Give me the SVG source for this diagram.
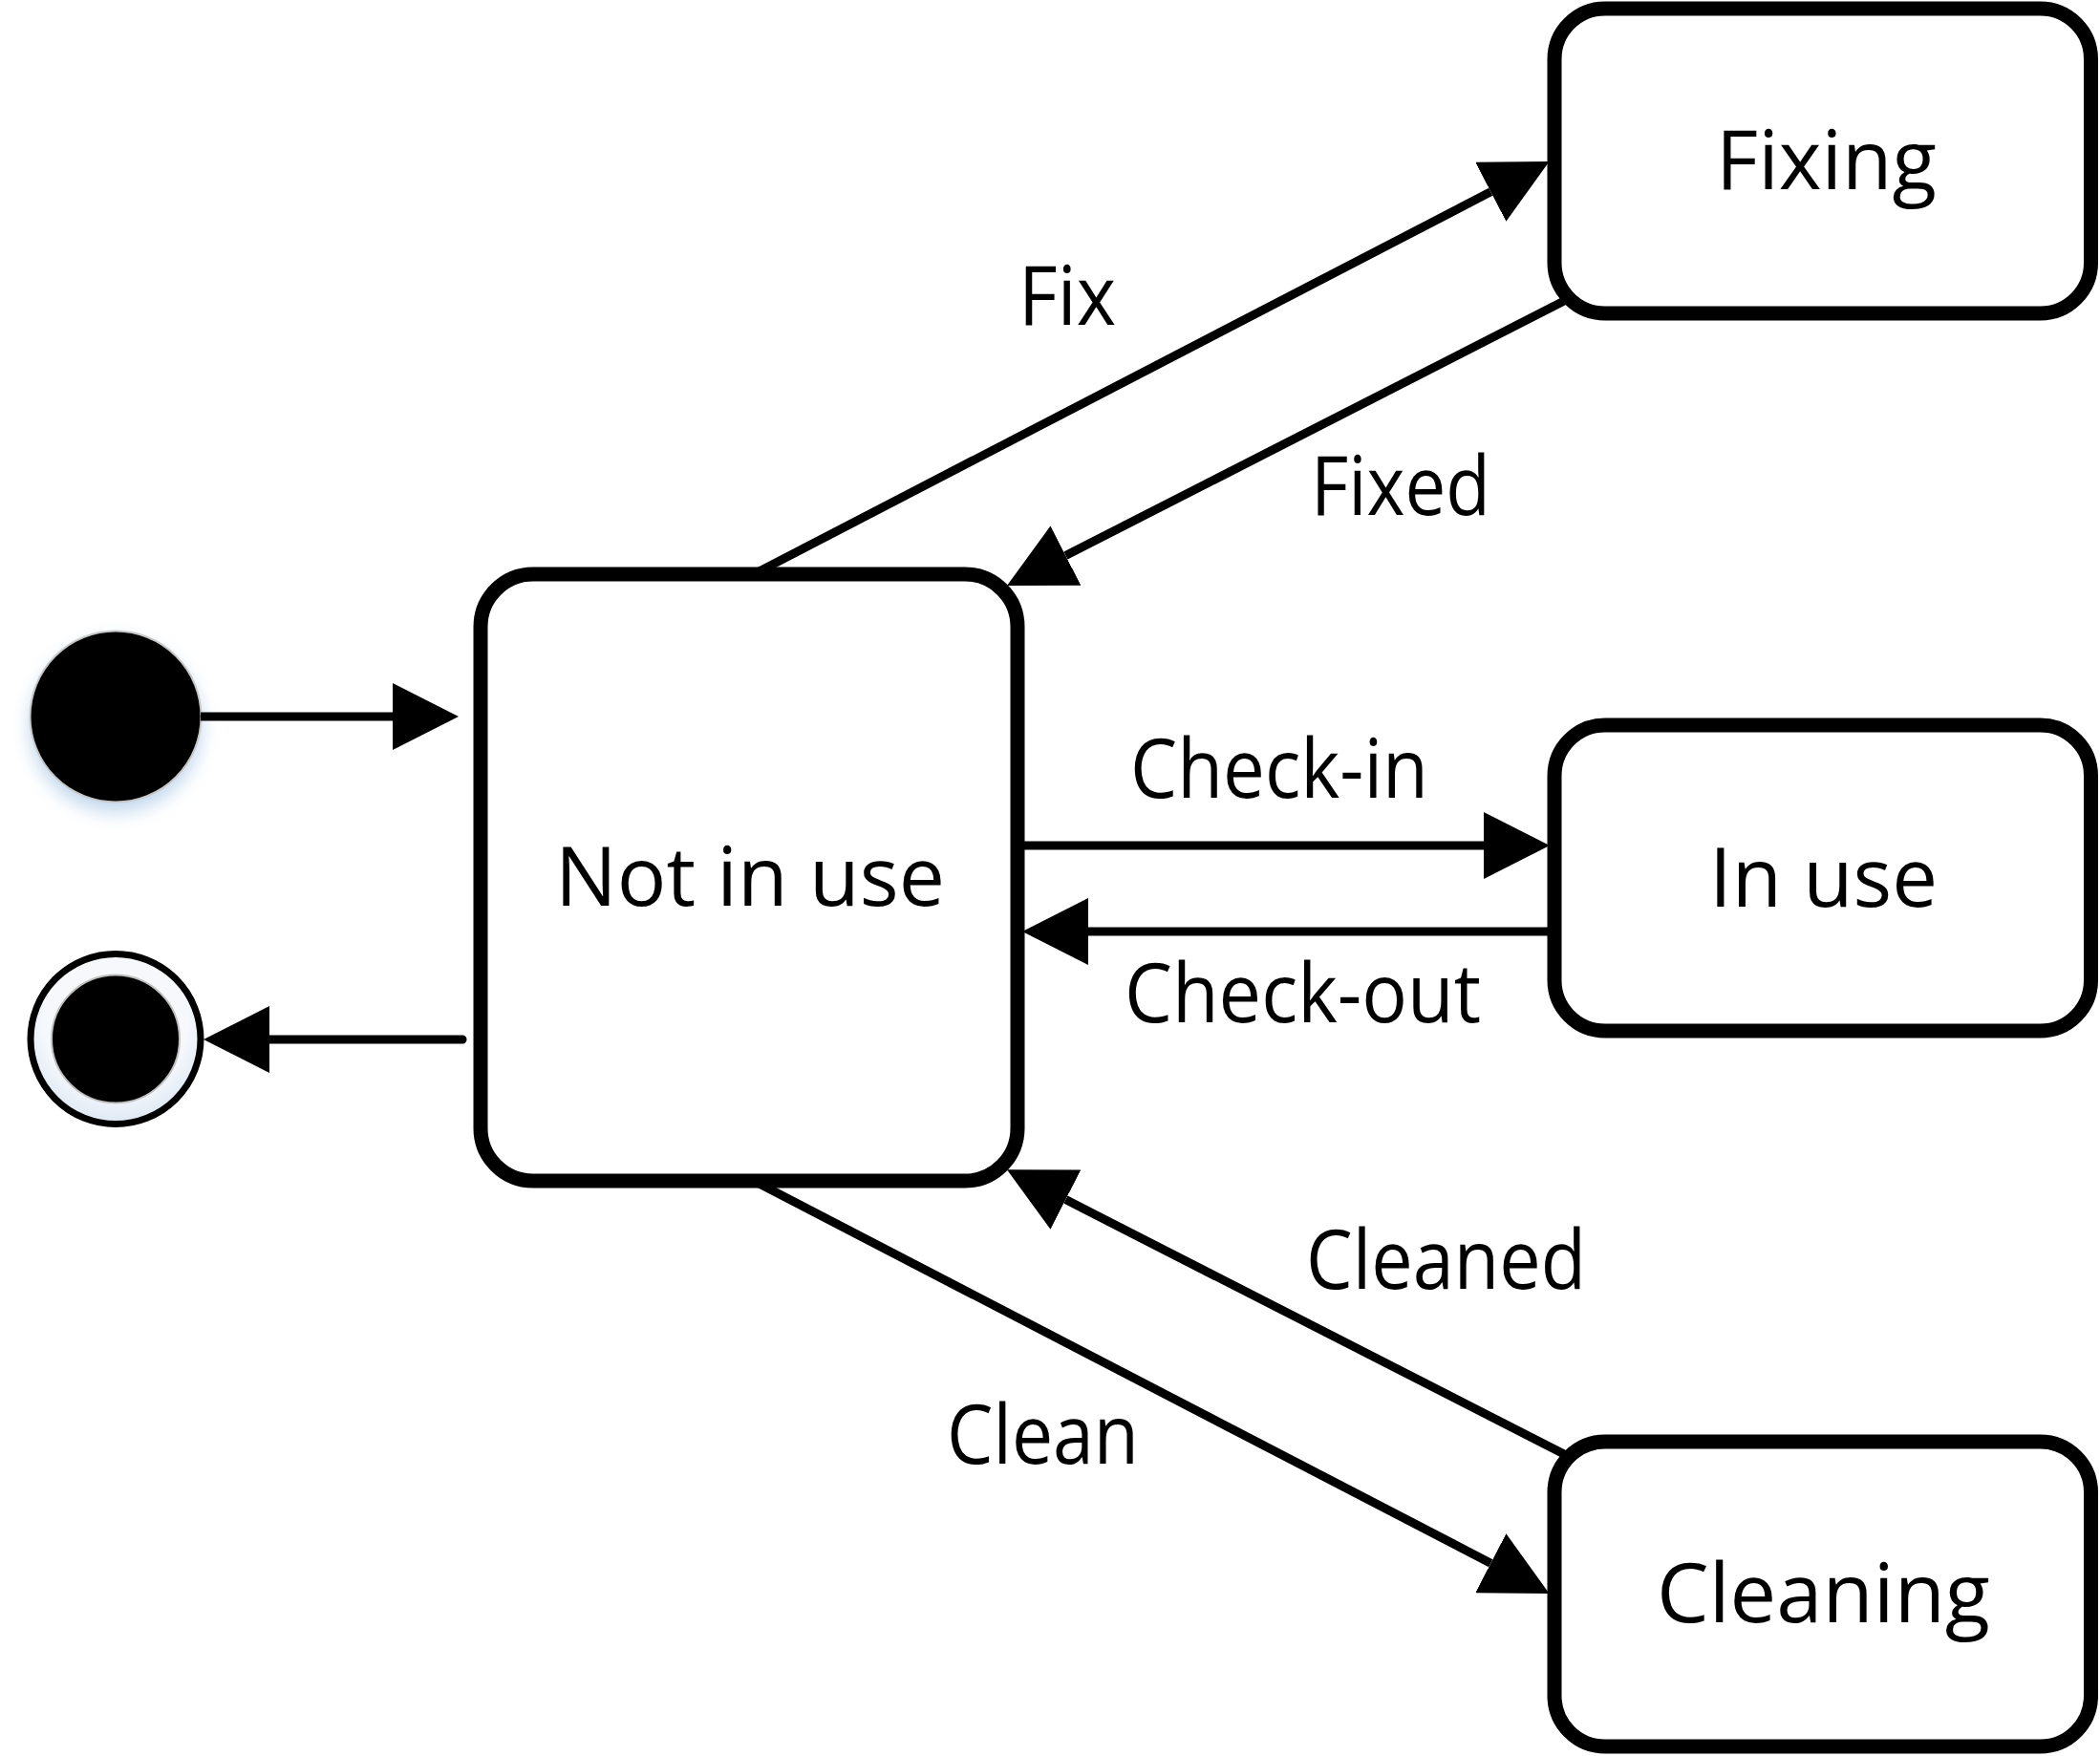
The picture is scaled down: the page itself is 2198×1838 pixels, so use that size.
<svg xmlns="http://www.w3.org/2000/svg" width="2198" height="1838" viewBox="0 0 2198 1838">
<style>
.node{fill:#fff;stroke:#000;stroke-width:15}
.lbl{font-family:"Open Sans","Noto Sans","Liberation Sans",sans-serif;font-size:86px;fill:#000}
.conn{stroke:#000;stroke-width:9;fill:none}
</style>
<defs>
<marker id="arr" markerUnits="userSpaceOnUse" markerWidth="70" markerHeight="70" refX="0" refY="35" orient="auto" viewBox="0 0 70 70">
<path d="M0,0 L69,35 L0,70 z" fill="#000"/>
</marker>
<filter id="glow" x="-40%" y="-40%" width="180%" height="190%">
<feGaussianBlur in="SourceAlpha" stdDeviation="9" result="b"/>
<feOffset in="b" dy="10" result="o"/>
<feFlood flood-color="#c4d9ee"/>
<feComposite in2="o" operator="in" result="s"/>
<feMerge><feMergeNode in="s"/><feMergeNode in="SourceGraphic"/></feMerge>
</filter>
<radialGradient id="ringfill" cx="50%" cy="40%" r="60%">
<stop offset="0.7" stop-color="#f6f8fc"/>
<stop offset="1" stop-color="#dde8f4"/>
</radialGradient>
</defs>

<g id="initial">
<circle cx="121" cy="750" r="89.5" fill="#000" stroke="#c8c8c8" stroke-width="2" filter="url(#glow)"/>
</g>

<g id="final">
<circle cx="121" cy="1087.5" r="89" fill="url(#ringfill)" stroke="#000" stroke-width="7"/>
<circle cx="121" cy="1087.5" r="67" fill="#000" stroke="#c0c0c0" stroke-width="2"/>
</g>

<g id="not-in-use">
<rect class="node" x="503" y="601" width="562" height="635" rx="55" ry="55"/>
<text class="lbl" x="581" y="948" textLength="408" lengthAdjust="spacingAndGlyphs">Not in use</text>
</g>

<g id="fixing">
<rect class="node" x="1627" y="9" width="561.5" height="319" rx="53" ry="53"/>
<text class="lbl" x="1796" y="198" textLength="231" lengthAdjust="spacingAndGlyphs">Fixing</text>
</g>

<g id="in-use">
<rect class="node" x="1627" y="759" width="561.5" height="320" rx="53" ry="53"/>
<text class="lbl" x="1789" y="949" textLength="239" lengthAdjust="spacingAndGlyphs">In use</text>
</g>

<g id="cleaning">
<rect class="node" x="1627" y="1509" width="561.5" height="319" rx="53" ry="53"/>
<text class="lbl" x="1734" y="1698" textLength="349" lengthAdjust="spacingAndGlyphs">Cleaning</text>
</g>

<g id="connectors">
<line class="conn" x1="210" y1="750" x2="411" y2="750" marker-end="url(#arr)"/>
<line class="conn" x1="484" y1="1088" x2="282" y2="1088" stroke-linecap="round" marker-end="url(#arr)"/>
<line class="conn" x1="1065" y1="885" x2="1553" y2="885" marker-end="url(#arr)"/>
<line class="conn" x1="1620" y1="975" x2="1139" y2="975" marker-end="url(#arr)"/>
<line class="conn" x1="789" y1="601" x2="1560.3" y2="200.8" marker-end="url(#arr)"/>
<line class="conn" x1="789" y1="1236" x2="1560.3" y2="1636.2" marker-end="url(#arr)"/>
<line class="conn" x1="1637" y1="315" x2="1115.4" y2="581.6" marker-end="url(#arr)"/>
<line class="conn" x1="1637" y1="1522" x2="1115.4" y2="1255.6" marker-end="url(#arr)"/>
</g>

<g id="labels">
<text class="lbl" x="1066" y="340" textLength="102" lengthAdjust="spacingAndGlyphs">Fix</text>
<text class="lbl" x="1372" y="539" textLength="188" lengthAdjust="spacingAndGlyphs">Fixed</text>
<text class="lbl" x="1183" y="835" textLength="312" lengthAdjust="spacingAndGlyphs">Check-in</text>
<text class="lbl" x="1177" y="1070" textLength="373" lengthAdjust="spacingAndGlyphs">Check-out</text>
<text class="lbl" x="1367" y="1349" textLength="293" lengthAdjust="spacingAndGlyphs">Cleaned</text>
<text class="lbl" x="991" y="1532" textLength="201" lengthAdjust="spacingAndGlyphs">Clean</text>
</g>
</svg>
